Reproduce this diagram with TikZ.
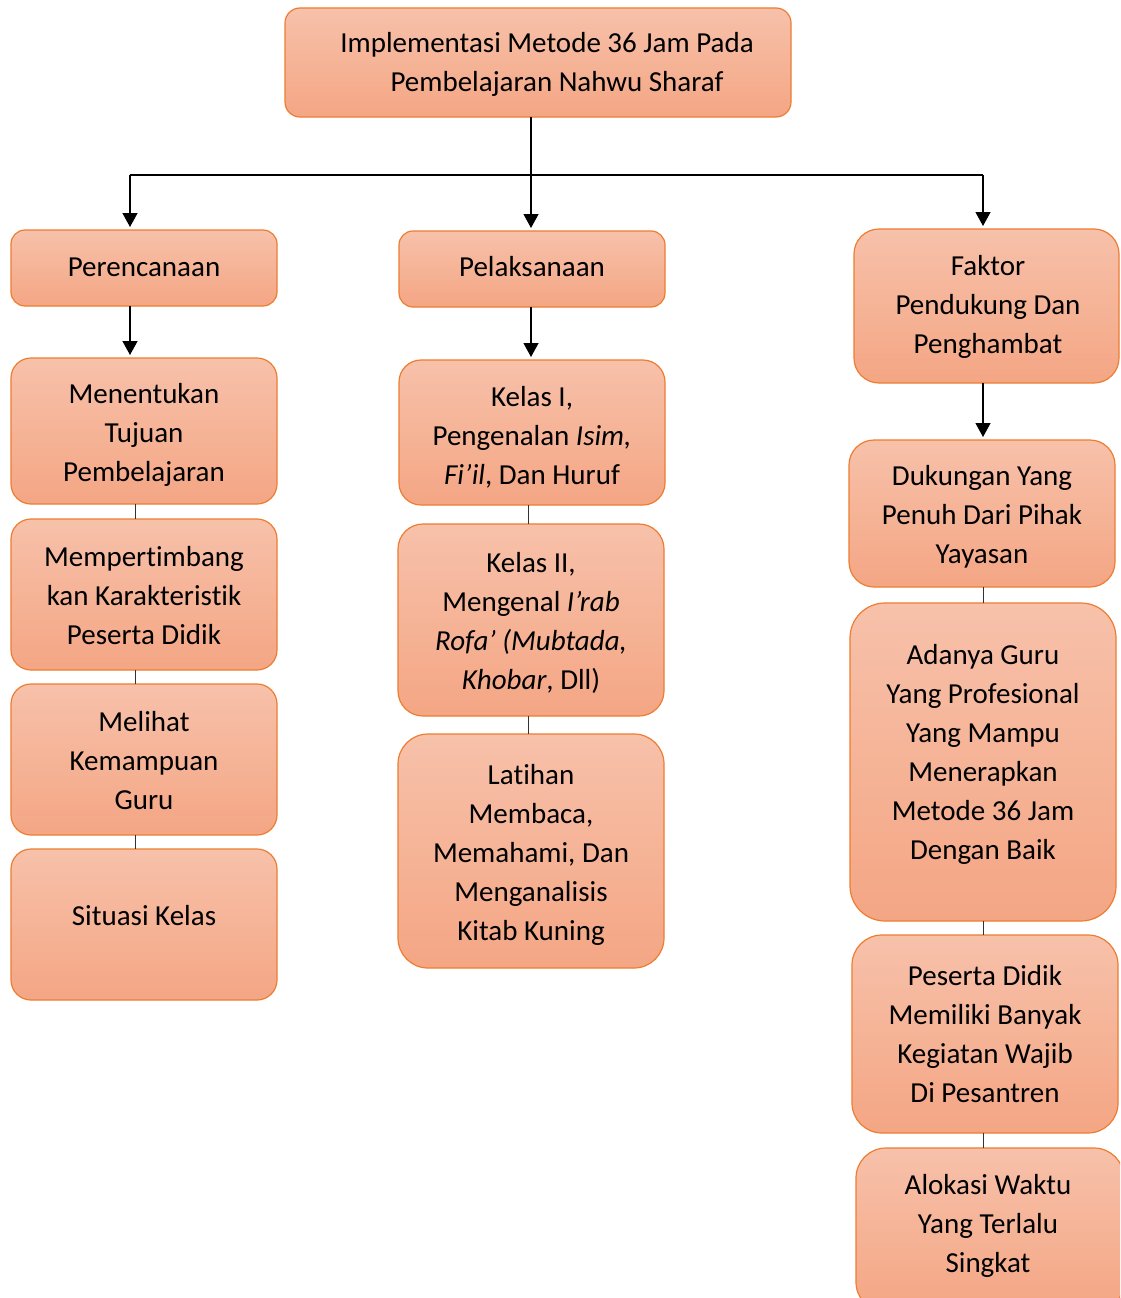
\documentclass[tikz,border=0pt]{standalone}
\usepackage{fontspec}
\setmainfont{Carlito}[Ligatures={TeX,NoCommon}]
\usetikzlibrary{arrows.meta}
\definecolor{ctop}{RGB}{247,193,170}
\definecolor{cbot}{RGB}{244,166,132}
\definecolor{cedge}{RGB}{237,125,49}
\definecolor{cline}{RGB}{50,50,50}
\tikzset{
  box/.style={draw=cedge, line width=1.2pt, top color=ctop, bottom color=cbot, inner sep=0pt, outer sep=0pt},
  txt/.style={align=center, inner sep=0pt, font=\fontsize{29}{39}\selectfont},
  arr/.style={line width=1.3pt, draw=black, -{Triangle[length=14pt,width=15pt]}, shorten >=3pt},
  ln/.style={line width=1.3pt, draw=black},
  link/.style={line width=1pt, draw=cline}
}
\newcommand{\mybox}[9]{%
  \node[box, rounded corners=#6, minimum width={#4-#2}, minimum height={#5-#3}] (#1) at ({(#2+#4)/2},{(#3+#5)/2}) {};
  \node[txt] (#1-t) at (#7,{#8+2}) {#9};}
\begin{document}
\begin{tikzpicture}[x=1pt,y=-1pt]
\path[use as bounding box, clip] (0,0) rectangle (1120,1298);
\fill[white] (0,0) rectangle (1120,1298);
% boxes
\mybox{top}{285}{8}{791}{117}{15pt}{547}{62}{Implementasi Metode 36 Jam Pada\\\hspace*{20pt}Pembelajaran Nahwu Sharaf}
\mybox{per}{11}{230}{277}{306}{14pt}{144}{265}{Perencanaan}
\mybox{pel}{399}{231}{665}{307}{14pt}{532}{265}{Pelaksanaan}
\mybox{fak}{854}{229}{1119}{383}{25pt}{988}{305}{Faktor\\Pendukung Dan\\Penghambat}
\mybox{m1}{11}{358}{277}{504}{20pt}{144}{433}{Menentukan\\Tujuan\\Pembelajaran}
\mybox{m2}{11}{519}{277}{670}{20pt}{144}{594}{Mempertimbang\\kan Karakteristik\\Peserta Didik}
\mybox{m3}{11}{684}{277}{835}{20pt}{144}{759}{Melihat\\Kemampuan\\Guru}
\mybox{m4}{11}{849}{277}{1000}{20pt}{144}{914}{Situasi Kelas}
\mybox{k1}{399}{360}{665}{505}{22pt}{532}{435}{Kelas I,\\Pengenalan \textit{Isim,}\\\textit{Fi’il}, Dan Huruf}
\mybox{k2}{398}{524}{664}{716}{25pt}{531}{621}{Kelas II,\\Mengenal \textit{I’rab}\\\textit{Rofa’ (Mubtada,}\\\textit{Khobar}, Dll)}
\mybox{k3}{398}{734}{664}{968}{30pt}{531}{853}{Latihan\\Membaca,\\Memahami, Dan\\Menganalisis\\Kitab Kuning}
\mybox{r1}{849}{440}{1115}{587}{25pt}{982}{515}{Dukungan Yang\\Penuh Dari Pihak\\Yayasan}
\mybox{r2}{850}{603}{1116}{921}{35pt}{983}{752}{Adanya Guru\\Yang Profesional\\Yang Mampu\\Menerapkan\\Metode 36 Jam\\Dengan Baik}
\mybox{r3}{852}{935}{1118}{1133}{30pt}{985}{1032}{Peserta Didik\\Memiliki Banyak\\Kegiatan Wajib\\Di Pesantren}
\mybox{r4}{856}{1148}{1124}{1312}{30pt}{988}{1224}{Alokasi Waktu\\Yang Terlalu\\Singkat}
% junctions
\coordinate (j) at (531,175);
\coordinate (ja) at (130,175);
\coordinate (jc) at (983,175);
\coordinate (xl) at (135,0);
\coordinate (xm) at (528,0);
\coordinate (xr) at (983,0);
\draw[ln] (top.south -| j) -- (j);
\draw[ln] (ja) -- (jc);
\draw[arr] (ja) -- (ja |- per.north);
\draw[arr] (j) -- (j |- pel.north);
\draw[arr] (jc) -- (jc |- fak.north);
\draw[arr] (per.south -| ja) -- (ja |- m1.north);
\draw[arr] (pel.south -| j) -- (j |- k1.north);
\draw[arr] (fak.south -| jc) -- (jc |- r1.north);
% stack links
\draw[link] (m1.south -| xl) -- (m2.north -| xl);
\draw[link] (m2.south -| xl) -- (m3.north -| xl);
\draw[link] (m3.south -| xl) -- (m4.north -| xl);
\draw[link] (k1.south -| xm) -- (k2.north -| xm);
\draw[link] (k2.south -| xm) -- (k3.north -| xm);
\draw[link] (r1.south -| xr) -- (r2.north -| xr);
\draw[link] (r2.south -| xr) -- (r3.north -| xr);
\draw[link] (r3.south -| xr) -- (r4.north -| xr);
\end{tikzpicture}
\end{document}
